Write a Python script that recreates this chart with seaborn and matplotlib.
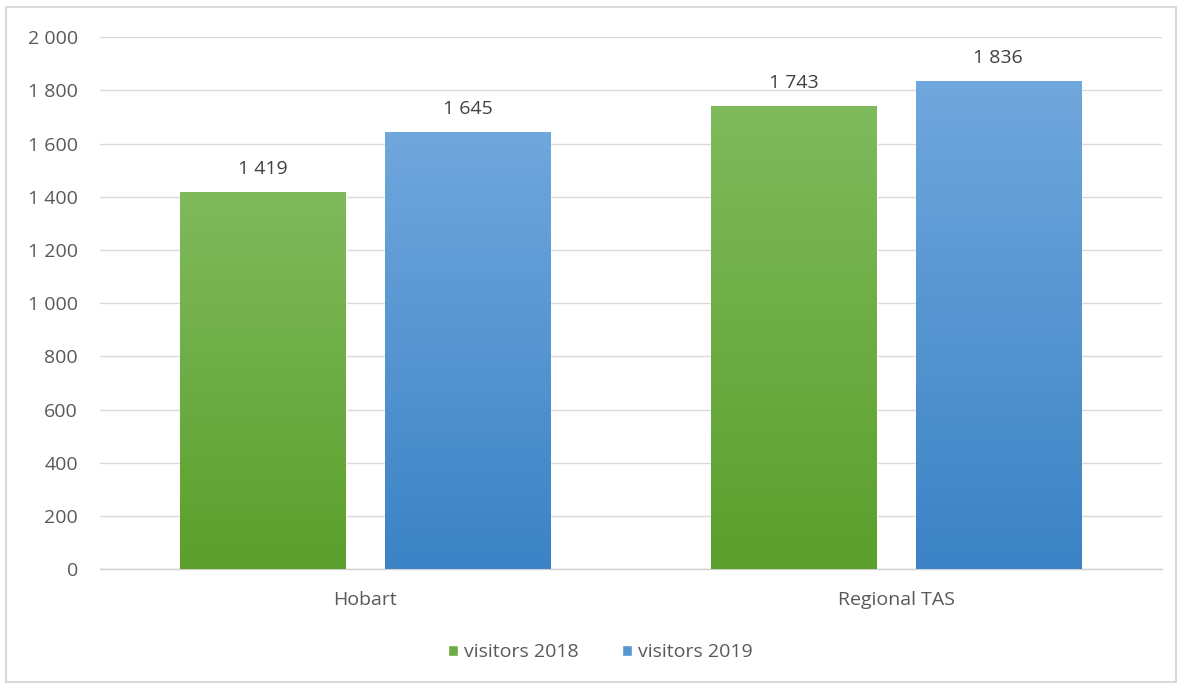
import numpy as np
import pandas as pd
import matplotlib
matplotlib.use("Agg")
import matplotlib.pyplot as plt
import seaborn as sns
from matplotlib.colors import LinearSegmentedColormap
from matplotlib.patches import Rectangle

categories = ["Hobart", "Regional TAS"]
series = ["visitors 2018", "visitors 2019"]
visitors_2018 = [1419, 1743]
visitors_2019 = [1645, 1836]
yticks = list(range(0, 2001, 200))

df = pd.DataFrame({
    "region": categories * 2,
    "series": [series[0]] * 2 + [series[1]] * 2,
    "value": visitors_2018 + visitors_2019,
})

sns.set_theme(style="white")
plt.rcParams["font.family"] = ["Open Sans", "DejaVu Sans"]
txt = "#595959"
fs = 14

fig = plt.figure(figsize=(11.84, 6.89), dpi=100)
ax = fig.add_axes([0.0845, 0.174, 0.8965, 0.772])

pal = {series[0]: "#6eac43", series[1]: "#5595d2"}
sns.barplot(data=df, x="region", y="value", hue="series", palette=pal,
            width=0.77, gap=0.19, ax=ax, legend=True, saturation=1)

grads = {
    series[0]: LinearSegmentedColormap.from_list("g", ["#5c9f2c", "#7fba5c"]),
    series[1]: LinearSegmentedColormap.from_list("b", ["#3b83c5", "#70a7dd"]),
}

ax.set_ylim(0, 2000)
ax.set_xlim(-0.5, 1.5)

grad = np.linspace(0, 1, 256).reshape(-1, 1)
for cont, s in zip(ax.containers, series):
    for bar in cont:
        x0, y0 = bar.get_x(), bar.get_y()
        w, h = bar.get_width(), bar.get_height()
        im = ax.imshow(grad, cmap=grads[s], origin="lower", aspect="auto",
                       extent=[x0, x0 + w, y0, y0 + h], zorder=3)
        im.set_clip_path(bar)
        bar.set_zorder(2)
        ax.annotate(f"{int(h):,}".replace(",", " "), (x0 + w / 2, h),
                    xytext=(0, 10), textcoords="offset points",
                    ha="center", va="bottom", fontsize=fs, color="#404040",
                    zorder=5)

ax.set_xlim(-0.5, 1.5)
ax.set_ylim(0, 2000)
ax.set_yticks(yticks)
ax.set_yticklabels([f"{v:,}".replace(",", " ") for v in yticks])
ax.yaxis.grid(True, color="#d9d9d9", linewidth=1)
ax.set_axisbelow(True)
for sp in ["top", "right", "left"]:
    ax.spines[sp].set_visible(False)
ax.spines["bottom"].set_color("#d0d0d0")
ax.spines["bottom"].set_linewidth(1)
ax.tick_params(axis="y", length=0, pad=16, labelsize=fs, labelcolor=txt)
ax.tick_params(axis="x", length=0, pad=16, labelsize=fs, labelcolor=txt)
ax.set_xlabel("")
ax.set_ylabel("")

handles, labels = ax.get_legend_handles_labels()
ax.legend_.remove()
leg = fig.legend(handles, labels, loc="center", bbox_to_anchor=(0.507, 0.053),
                 ncol=2, frameon=False, fontsize=fs, handlelength=0.55,
                 handleheight=0.55, handletextpad=0.3, columnspacing=2.2)
for t in leg.get_texts():
    t.set_color(txt)

fig.patches.append(Rectangle((0.005, 0.01), 0.988, 0.98, transform=fig.transFigure,
                             fill=False, edgecolor="#d9d9d9", linewidth=1.5))

fig.savefig("out.png", dpi=100)
